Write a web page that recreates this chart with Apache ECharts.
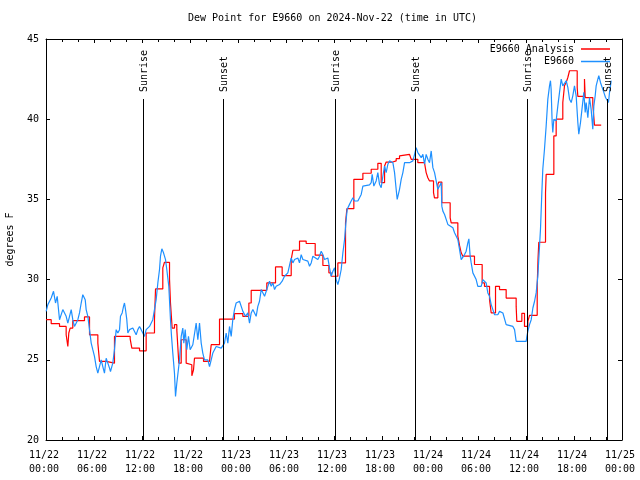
<!DOCTYPE html>
<html>
<head>
<meta charset="utf-8">
<script src="https://cdn.jsdelivr.net/npm/echarts@6/dist/echarts.min.js"></script>
<style>
html,body{margin:0;padding:0;background:#fff;}
#chart{width:640px;height:480px;}
</style>
</head>
<body>
<div id="chart"></div>
<script>
// hours since 2024-11-22 00:00 UTC
const xTickHours = [0, 6, 12, 18, 24, 30, 36, 42, 48, 54, 60, 66, 72];
const yTicks = [20, 25, 30, 35, 40, 45];

const sunTimes = [12.1, 22.1, 36.12, 46.12, 60.15, 70.1];
const sunLabels = ['Sunrise', 'Sunset', 'Sunrise', 'Sunset', 'Sunrise', 'Sunset'];

// E9660 Analysis (step values: [hour, degF])
const analysis = [
[0,27.5],[0.65,27.25],[1.69,27.08],[2.52,26.56],[2.73,25.83],[2.85,26.67],[3.02,26.98],[3.35,27.44],
[4.81,27.67],[5.44,26.56],[6.48,26.04],[6.69,24.9],[7.52,24.79],[8.56,26.46],[10.52,26.31],[10.73,25.73],
[11.69,25.56],[12.52,26.67],[13.56,27.5],[13.69,29.42],[14.6,30.73],[14.81,31.08],[15.44,30.04],[15.56,28.54],
[15.77,26.98],[16.06,27.19],[16.35,26.88],[16.6,24.79],[16.9,26.25],[17.52,24.79],[17.73,24.69],[18.23,24.0],
[18.44,24.38],[18.56,25.1],[19.69,24.9],[20.44,24.79],[20.65,25.94],[21.69,27.54],[23.56,27.88],[24.6,27.71],
[25.36,28.54],[25.65,29.33],[27.6,29.79],[28.69,30.79],[29.52,30.25],[30.65,31.25],[30.86,31.83],[31.69,32.4],
[32.52,32.25],[33.65,31.52],[34.61,30.88],[35.36,30.42],[35.65,30.21],[36.48,31.04],[37.44,33.54],[37.61,34.42],
[38.48,36.25],[39.61,36.63],[40.65,36.88],[41.48,37.25],[41.9,36.04],[42.32,37.08],[42.52,37.33],[43.36,37.4],
[43.77,37.54],[44.19,37.71],[44.4,37.81],[45.44,37.75],[45.65,37.5],[46.48,37.29],[47.31,37.19],[47.52,36.67],
[47.73,36.35],[47.94,36.15],[48.44,35.42],[48.56,35.1],[48.98,35.94],[49.1,36.08],[49.48,34.79],[50.52,33.85],
[50.65,33.54],[51.48,32.71],[51.69,32.13],[51.9,31.67],[52.11,31.46],[53.56,30.94],[54.52,29.79],[54.81,29.58],
[55.44,28.75],[55.65,27.92],[56.19,29.58],[56.69,29.38],[57.52,28.85],[58.77,28.33],[58.85,27.4],[59.48,27.9],
[59.81,27.08],[60.23,27.4],[60.44,27.77],[61.4,29.58],[61.5,31.25],[61.6,32.33],[62.44,35.42],[62.52,36.56],
[63.48,38.96],[63.77,40.0],[64.6,41.04],[64.81,42.08],[65.02,42.29],[65.23,42.6],[65.44,43.02],[66.4,41.98],
[66.48,41.42],[67.31,42.5],[67.4,41.35],[68.35,40.94],[68.56,39.63],[69.4,39.63]
];

// E9660 observations ([hour, degF])
const observed = [
[0.02,28.02],[0.23,28.44],[0.65,28.85],[0.94,29.27],[1.19,28.54],[1.4,28.96],[1.69,27.5],[2.1,28.13],
[2.52,27.71],[2.73,27.29],[3.15,28.13],[3.35,27.5],[3.56,27.08],[3.98,27.5],[4.19,27.92],[4.4,28.54],
[4.6,29.06],[4.73,29.06],[4.9,28.75],[5.02,28.13],[5.23,27.71],[5.44,26.88],[5.65,26.04],[5.85,25.63],
[6.06,25.21],[6.27,24.58],[6.48,24.17],[6.69,24.17],[6.9,25.0],[7.1,24.58],[7.31,24.17],[7.52,25.1],
[7.73,24.79],[7.94,24.48],[8.06,24.27],[8.35,24.79],[8.56,25.63],[8.77,26.88],[8.98,26.67],[9.19,26.88],
[9.31,27.71],[9.52,27.92],[9.69,28.33],[9.81,28.54],[9.94,28.13],[10.1,27.5],[10.23,26.67],[10.44,26.88],
[10.85,26.98],[11.06,26.88],[11.27,26.56],[11.48,26.88],[11.69,27.08],[11.9,26.88],[12.1,26.67],[12.31,26.46],
[12.52,26.88],[12.94,27.08],[13.35,27.5],[13.56,28.13],[13.77,28.75],[13.98,29.79],[14.19,30.63],[14.31,31.46],
[14.48,31.92],[14.69,31.67],[14.94,31.25],[15.1,30.63],[15.35,29.58],[15.56,27.5],[15.69,26.46],[15.85,25.42],
[16.06,24.17],[16.19,22.71],[16.35,23.54],[16.69,25.0],[16.9,26.46],[17.1,26.98],[17.23,26.04],[17.4,26.88],
[17.6,25.63],[17.81,26.46],[18.02,25.63],[18.35,25.94],[18.56,25.83],[18.77,27.29],[18.98,26.25],[19.19,27.29],
[19.4,26.04],[19.6,25.42],[19.81,25.0],[20.23,25.0],[20.44,24.58],[20.65,25.0],[20.85,25.42],[21.27,25.83],
[21.48,25.83],[21.9,25.73],[22.31,26.04],[22.52,26.67],[22.73,26.04],[22.94,27.08],[23.15,26.46],[23.35,27.5],
[23.56,28.13],[23.77,28.54],[24.19,28.65],[24.4,28.54],[24.61,28.02],[24.94,27.71],[25.23,27.92],[25.44,27.29],
[25.65,27.92],[25.86,28.13],[26.07,27.92],[26.27,27.71],[26.48,28.33],[26.69,28.65],[26.9,29.38],[27.11,29.27],
[27.32,28.96],[27.52,28.85],[27.73,29.58],[27.94,29.9],[28.15,29.58],[28.36,29.79],[28.57,29.38],[28.77,29.58],
[29.19,29.69],[29.52,29.9],[29.81,30.21],[30.23,30.42],[30.44,30.42],[30.65,31.35],[30.86,31.04],[31.07,31.25],
[31.27,31.15],[31.48,31.35],[31.69,31.04],[31.9,31.56],[32.11,31.25],[32.32,31.15],[32.73,31.15],[32.94,30.83],
[33.15,31.04],[33.36,31.46],[33.57,31.35],[33.98,31.25],[34.19,31.46],[34.4,31.77],[34.61,31.56],[34.82,31.25],
[35.02,31.15],[35.23,31.35],[35.44,30.73],[35.65,30.21],[35.86,30.52],[36.07,30.73],[36.27,30.0],[36.48,29.69],
[36.69,30.1],[36.9,30.63],[37.11,31.67],[37.32,32.5],[37.52,33.75],[37.65,34.38],[37.94,34.69],[38.15,34.9],
[38.36,35.1],[38.57,34.9],[38.77,34.79],[38.98,34.9],[39.19,35.1],[39.4,35.31],[39.61,35.83],[40.44,35.9],
[40.65,36.04],[40.77,36.56],[40.98,35.83],[41.27,36.15],[41.48,36.67],[41.69,35.94],[41.9,35.73],[42.11,36.46],
[42.32,37.08],[42.52,36.67],[42.73,37.19],[42.94,37.4],[43.15,37.5],[43.36,37.29],[43.57,36.67],[43.77,35.63],
[43.9,35.0],[44.19,35.63],[44.4,36.25],[44.61,36.67],[44.82,37.29],[45.44,37.29],[45.86,37.4],[46.07,37.81],
[46.27,38.23],[46.48,37.92],[46.69,37.81],[46.9,37.6],[47.11,37.81],[47.32,37.19],[47.52,37.81],[47.73,37.5],
[47.94,37.29],[48.15,38.02],[48.36,36.98],[48.57,36.67],[48.77,36.15],[48.98,35.63],[49.19,35.83],[49.4,36.04],
[49.48,34.58],[49.61,34.27],[49.82,34.06],[50.02,33.96],[50.23,33.44],[50.44,33.33],[50.86,33.23],[51.07,32.92],
[51.48,32.5],[51.69,31.88],[51.9,31.25],[52.11,31.35],[52.32,31.56],[52.52,31.77],[52.73,32.29],[52.86,32.54],
[53.02,31.46],[53.15,31.04],[53.36,30.42],[53.57,30.52],[53.77,30.0],[53.98,29.58],[54.4,29.58],[54.61,30.0],
[54.82,30.1],[55.02,29.79],[55.23,29.17],[55.44,28.96],[55.65,28.44],[55.86,28.13],[56.07,27.81],[56.48,27.81],
[56.69,28.02],[56.9,28.13],[57.11,27.92],[57.32,27.81],[57.52,27.19],[57.73,27.08],[58.36,27.08],[58.57,26.88],
[58.77,26.15],[60.02,26.15],[60.11,26.46],[60.23,26.77],[60.44,27.19],[60.65,27.5],[60.86,28.23],[61.07,28.65],
[61.27,29.17],[61.48,30.21],[61.69,32.08],[61.81,33.13],[61.98,35.42],[62.1,36.88],[62.31,38.13],[62.52,39.58],
[62.73,41.25],[62.94,42.08],[63.06,42.4],[63.14,41.88],[63.27,39.79],[63.35,39.17],[63.48,40.0],[63.77,39.9],
[63.98,40.83],[64.19,41.67],[64.4,42.5],[64.6,42.08],[64.81,42.19],[65.02,42.4],[65.23,41.98],[65.44,41.25],
[65.65,41.04],[65.85,41.46],[66.06,42.08],[66.27,41.46],[66.48,39.79],[66.6,39.06],[66.81,39.79],[67.02,39.9],
[67.23,41.67],[67.4,40.42],[67.52,41.04],[67.73,40.1],[67.94,41.35],[68.14,40.63],[68.35,39.38],[68.48,40.83],
[68.65,41.46],[68.77,42.08],[68.98,42.5],[69.1,42.71],[69.31,42.29],[69.52,42.19],[69.73,41.67],[69.94,41.35],
[70.15,41.46],[70.31,41.04],[70.44,41.67],[70.65,42.4]
];

const FONT = '"DejaVu Sans Mono", "Liberation Mono", monospace';
const RED = '#ff0000';
const BLUE = '#1e90ff';

function xLabel(v) {
  const day = 22 + Math.floor(v / 24);
  const h = v % 24;
  return '11/' + day + '\n' + (h < 10 ? '0' : '') + h + ':00';
}

const chart = echarts.init(document.getElementById('chart'), null, { renderer: 'canvas' });

const baseX = {
  type: 'value', min: xTickHours[0], max: xTickHours[xTickHours.length - 1],
  interval: xTickHours[1] - xTickHours[0],
  axisLine: { show: true, onZero: false, lineStyle: { color: '#000', width: 1 } },
  axisTick: { show: true, inside: true, length: 4, lineStyle: { color: '#000' } },
  minorTick: { show: true, splitNumber: 3, length: 3, lineStyle: { color: '#000' } },
  splitLine: { show: false },
  minorSplitLine: { show: false }
};
const baseY = {
  type: 'value', min: yTicks[0], max: yTicks[yTicks.length - 1],
  interval: yTicks[1] - yTicks[0],
  axisLine: { show: true, onZero: false, lineStyle: { color: '#000', width: 1 } },
  axisTick: { show: true, inside: true, length: 4, lineStyle: { color: '#000' } },
  splitLine: { show: false }
};

const legendBase = {
  orient: 'vertical', right: 30, align: 'right', padding: 0,
  itemWidth: 29, itemHeight: 1.5, itemGap: 0, selectedMode: false,
  textStyle: { fontFamily: FONT, fontSize: 10, color: '#000', padding: [0, 2, 0, 0] }
};

chart.setOption({
  animation: false,
  backgroundColor: '#fff',
  title: {
    text: 'Dew Point for E9660 on 2024-Nov-22 (time in UTC)',
    left: 188, top: 13, padding: 0,
    textStyle: { fontFamily: FONT, fontSize: 10, fontWeight: 'normal', color: '#000' }
  },
  legend: [
    Object.assign({}, legendBase, { top: 44, data: [{ name: 'E9660 Analysis', icon: 'rect' }] }),
    Object.assign({}, legendBase, { top: 56.5, data: [{ name: 'E9660', icon: 'rect' }] })
  ],
  grid: { left: 46, right: 18, top: 39, bottom: 40, containLabel: false, outerBoundsMode: 'none' },
  xAxis: [
    Object.assign({}, baseX, {
      position: 'bottom',
      axisLabel: {
        show: true, showMinLabel: true, showMaxLabel: true, margin: 8,
        fontFamily: FONT, fontSize: 10, color: '#000', lineHeight: 14,
        padding: [0, 4, 0, 0],
        formatter: xLabel
      }
    }),
    Object.assign({}, baseX, { position: 'top', axisLabel: { show: false } })
  ],
  yAxis: [
    Object.assign({}, baseY, {
      position: 'left',
      name: 'degrees F', nameLocation: 'middle', nameGap: 31, nameRotate: 90,
      nameTextStyle: { fontFamily: FONT, fontSize: 10, color: '#000' },
      axisLabel: { show: true, margin: 7, fontFamily: FONT, fontSize: 10, color: '#000' }
    }),
    Object.assign({}, baseY, { position: 'right', axisLabel: { show: false } })
  ],
  series: [
    {
      name: 'E9660 Analysis', type: 'line', xAxisIndex: 0, yAxisIndex: 0,
      data: analysis, step: 'end', symbol: 'none', showSymbol: false,
      lineStyle: { color: RED, width: 1.2 }, itemStyle: { color: RED }, z: 3
    },
    {
      name: 'E9660', type: 'line', xAxisIndex: 0, yAxisIndex: 0,
      data: observed, symbol: 'none', showSymbol: false,
      lineStyle: { color: BLUE, width: 1.2 }, itemStyle: { color: BLUE }, z: 4
    },
    {
      name: 'sun', type: 'custom', xAxisIndex: 0, yAxisIndex: 0, z: 5, silent: true,
      data: sunTimes.map(t => [t, yTicks[0]]),
      renderItem: function (params, api) {
        const t = api.value(0);
        const pb = api.coord([t, yTicks[0]]);
        const pt = api.coord([t, yTicks[yTicks.length - 1]]);
        const x = Math.round(pb[0]) + 0.5;
        return {
          type: 'group',
          children: [
            { type: 'line', shape: { x1: x, y1: pt[1] + 60, x2: x, y2: pb[1] },
              style: { stroke: '#000', lineWidth: 1 } },
            { type: 'text', x: x + 1, y: pt[1] + 53, rotation: Math.PI / 2,
              style: { text: sunLabels[params.dataIndex], align: 'left', verticalAlign: 'middle',
                       font: '10px ' + FONT, fill: '#000' } }
          ]
        };
      }
    }
  ]
});
</script>
</body>
</html>
